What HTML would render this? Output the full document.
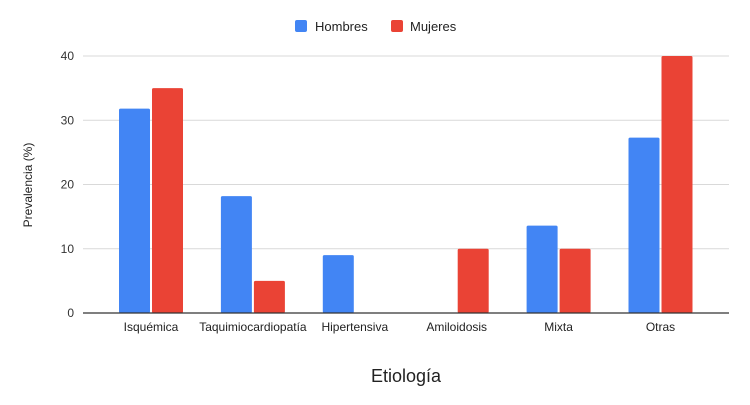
<!DOCTYPE html>
<html><head><meta charset="utf-8"><style>
body{margin:0;background:#fff;}
svg{display:block;font-family:"Liberation Sans",Arial,sans-serif;}
</style></head><body>
<svg id="chart" width="750" height="405">
<g id="grid"></g><g id="bars"></g><g id="labels"></g>
<g>
<rect x="295" y="20" width="12" height="12" rx="2" fill="#4285f4"/>
<text x="315" y="31" font-size="13" fill="#222">Hombres</text>
<rect x="391" y="20" width="12" height="12" rx="2" fill="#ea4335"/>
<text x="410" y="31" font-size="13" fill="#222">Mujeres</text>
</g>
<text transform="translate(32,185) rotate(-90)" text-anchor="middle" font-size="12" fill="#222">Prevalencia (%)</text>
<text x="406" y="382" text-anchor="middle" font-size="18" fill="#222">Etiología</text>
</svg>
<script>
const categories=["Isquémica","Taquimiocardiopatía","Hipertensiva","Amiloidosis","Mixta","Otras"];
const hombres=[31.8,18.2,9,0,13.6,27.3];
const mujeres=[35,5,0,10,10,40];
const yTicks=[0,10,20,30,40];
const NS="http://www.w3.org/2000/svg";
const x0=83,x1=729,yZero=313,yTop=56,yMax=40;
const y=v=>yZero-(v/yMax)*(yZero-yTop);
const xc=i=>151+i*101.9;
const bw=31;
function mk(tag,attrs,parent){const e=document.createElementNS(NS,tag);for(const k in attrs)e.setAttribute(k,attrs[k]);parent.appendChild(e);return e;}
const grid=document.getElementById('grid'),bars=document.getElementById('bars'),labels=document.getElementById('labels');
yTicks.forEach(t=>{
  if(t>0){const l=mk('line',{x1:x0,x2:x1,y1:y(t),y2:y(t),stroke:'#d9d9d9','stroke-width':1},grid);
  
  }
  const tx=mk('text',{x:74,y:y(t)+4,'text-anchor':'end','font-size':12,fill:'#333'},labels);
  tx.textContent=t;
  
  
});
categories.forEach((c,i)=>{
  const h=hombres[i],m=mujeres[i];
  if(h>0){const r=mk('rect',{x:xc(i)-bw-1,y:y(h),width:bw,height:yZero-y(h),fill:'#4285f4',rx:1.5},bars);
  
  }
  if(m>0){const r=mk('rect',{x:xc(i)+1,y:y(m),width:bw,height:yZero-y(m),fill:'#ea4335',rx:1.5},bars);
  
  }
  const tx=mk('text',{x:xc(i),y:331,'text-anchor':'middle','font-size':12,fill:'#222'},labels);
  tx.textContent=c;
  
  
});
const ax=mk('line',{x1:x0,x2:x1,y1:yZero,y2:yZero,stroke:'#333','stroke-width':1.2},labels);


</script>
</body></html>
